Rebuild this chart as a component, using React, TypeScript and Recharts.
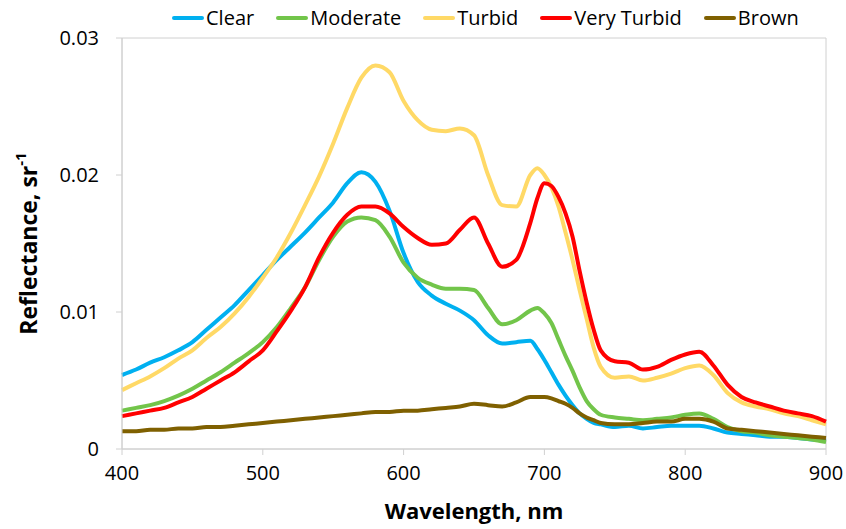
import React from "react";
import { Legend, Line, LineChart, ReferenceArea, XAxis, YAxis } from "recharts";

// wavelength samples (nm)
const wavelengths = [
  400, 410, 420, 430, 440, 450, 460, 470, 480, 490, 500, 510, 520, 530, 540, 550, 560, 570, 580, 590,
  600, 610, 620, 630, 640, 650, 660, 670, 680, 690, 695, 700, 705, 710, 715, 720, 725, 730, 735, 740,
  750, 760, 770, 780, 790, 800, 810, 820, 830, 840, 850, 860, 870, 880, 890, 900,
];

const clear = [
  0.0054, 0.0058, 0.0063, 0.0067, 0.0072, 0.0078, 0.0087, 0.0096, 0.0105, 0.0116, 0.0127, 0.0138, 0.0148, 0.0158, 0.0169, 0.018, 0.0194, 0.0202, 0.0195, 0.0174,
  0.0143, 0.0122, 0.0112, 0.0106, 0.0101, 0.0094, 0.0083, 0.0077, 0.0078, 0.0079, 0.0073, 0.0065, 0.0056, 0.0047, 0.0039, 0.0032, 0.0026, 0.0022, 0.0019, 0.0018,
  0.0016, 0.0017, 0.0015, 0.0016, 0.0017, 0.0017, 0.0017, 0.0015, 0.0012, 0.0011, 0.001, 0.0009, 0.0009, 0.0008, 0.0007, 0.0006,
];
const moderate = [
  0.0028, 0.003, 0.0032, 0.0035, 0.0039, 0.0044, 0.005, 0.0056, 0.0063, 0.007, 0.0078, 0.0089, 0.0103, 0.0118, 0.0138, 0.0155, 0.0166, 0.0169, 0.0167, 0.0155,
  0.0136, 0.0125, 0.012, 0.0117, 0.0117, 0.0116, 0.0103, 0.0091, 0.0094, 0.0101, 0.0103, 0.0099, 0.0092, 0.008, 0.0068, 0.0057, 0.0045, 0.0035, 0.0029, 0.0025,
  0.0023, 0.0022, 0.0021, 0.0022, 0.0023, 0.0025, 0.0026, 0.0022, 0.0016, 0.0013, 0.0012, 0.001, 0.0009, 0.0008, 0.0007, 0.0005,
];
const turbid = [
  0.0043, 0.0048, 0.0053, 0.0059, 0.0066, 0.0072, 0.0081, 0.0089, 0.0099, 0.0111, 0.0125, 0.014, 0.0158, 0.0178, 0.0199, 0.0223, 0.0249, 0.0271, 0.028, 0.0275,
  0.0254, 0.024, 0.0233, 0.0232, 0.0234, 0.0229, 0.02, 0.0178, 0.0177, 0.02, 0.0205, 0.02, 0.0191, 0.0177, 0.0158, 0.0138, 0.0116, 0.0095, 0.0074, 0.006,
  0.0052, 0.0053, 0.005, 0.0052, 0.0055, 0.0059, 0.0061, 0.0054, 0.0041, 0.0034, 0.0031, 0.0029, 0.0026, 0.0024, 0.0021, 0.0018,
];
const veryTurbid = [
  0.0024, 0.0026, 0.0028, 0.003, 0.0034, 0.0038, 0.0044, 0.005, 0.0056, 0.0064, 0.0072, 0.0086, 0.0101, 0.0118, 0.014, 0.0158, 0.0171, 0.0177, 0.0177, 0.0172,
  0.0162, 0.0154, 0.0149, 0.015, 0.016, 0.0169, 0.015, 0.0133, 0.0138, 0.0165, 0.0183, 0.0194, 0.0192, 0.0184, 0.0172, 0.0155, 0.013, 0.0107, 0.0087, 0.0072,
  0.0064, 0.0063, 0.0058, 0.006, 0.0065, 0.0069, 0.0071, 0.0061, 0.0047, 0.0038, 0.0034, 0.0031, 0.0028, 0.0026, 0.0024, 0.002,
];
const brown = [
  0.0013, 0.0013, 0.0014, 0.0014, 0.0015, 0.0015, 0.0016, 0.0016, 0.0017, 0.0018, 0.0019, 0.002, 0.0021, 0.0022, 0.0023, 0.0024, 0.0025, 0.0026, 0.0027, 0.0027,
  0.0028, 0.0028, 0.0029, 0.003, 0.0031, 0.0033, 0.0032, 0.0031, 0.0034, 0.0038, 0.0038, 0.0038, 0.0037, 0.0035, 0.0033, 0.003, 0.0026, 0.0023, 0.0021, 0.0019,
  0.0018, 0.0018, 0.0019, 0.002, 0.002, 0.0022, 0.0022, 0.002, 0.0015, 0.0014, 0.0013, 0.0012, 0.0011, 0.001, 0.0009, 0.0008,
];

const xTicks = [400, 500, 600, 700, 800, 900];
const yTicks = [0, 0.01, 0.02, 0.03];

const series = [
  { key: "clear", name: "Clear", color: "#00b0f0", values: clear },
  { key: "moderate", name: "Moderate", color: "#72c54a", values: moderate },
  { key: "turbid", name: "Turbid", color: "#ffd966", values: turbid },
  { key: "veryTurbid", name: "Very Turbid", color: "#ff0000", values: veryTurbid },
  { key: "brown", name: "Brown", color: "#7f6000", values: brown },
];

const data = wavelengths.map((wl, i) => {
  const row: Record<string, number> = { wl };
  series.forEach((s) => (row[s.key] = s.values[i]));
  return row;
});

const FONT = "'Open Sans', 'Noto Sans', sans-serif";
const AXIS = "#d0d0d0";

function TopLegend() {
  return (
    <div style={{ display: "flex", gap: 22, paddingLeft: 172, fontFamily: FONT, fontSize: 20, color: "#000", alignItems: "center" }}>
      {series.map((s) => (
        <div key={s.key} style={{ display: "flex", alignItems: "center" }}>
          <span style={{ display: "inline-block", width: 32, height: 4, borderRadius: 2, background: s.color, marginRight: 2 }} />
          <span>{s.name}</span>
        </div>
      ))}
    </div>
  );
}

export default function App() {
  return (
    <div style={{ position: "absolute", left: 0, top: 0, width: 846, height: 529, background: "#fff" }}>
      <LineChart width={846} height={529} data={data} margin={{ top: 38, right: 20, bottom: 0, left: 0 }}>
        <ReferenceArea x1={400} x2={900} y1={0} y2={0.03} fill="none" stroke={AXIS} strokeWidth={1} ifOverflow="visible" />
        <XAxis
          dataKey="wl"
          type="number"
          domain={[400, 900]}
          ticks={xTicks}
          height={80}
          stroke={AXIS}
          tickSize={6}
          tickMargin={11}
          tick={{ fill: "#000", fontSize: 20, fontFamily: FONT }}
          label={{ value: "Wavelength, nm", position: "insideBottom", offset: 10, fill: "#000", fontSize: 22, fontWeight: 700, fontFamily: FONT }}
        />
        <YAxis
          type="number"
          domain={[0, 0.03]}
          ticks={yTicks}
          width={122}
          stroke={AXIS}
          tickSize={6}
          tickMargin={17}
          tickFormatter={(v: number) => (v === 0 ? "0" : v.toFixed(2))}
          tick={{ fill: "#000", fontSize: 20, fontFamily: FONT }}
          label={({ viewBox }: any) => (
            <text
              x={28}
              y={viewBox.y + viewBox.height / 2}
              transform={`rotate(-90, 28, ${viewBox.y + viewBox.height / 2})`}
              textAnchor="middle"
              dominantBaseline="central"
              fontFamily={FONT}
              fontSize={23}
              fontWeight={700}
              fill="#000"
            >
              Reflectance, sr<tspan fontSize={15} dy={-8}>-1</tspan>
            </text>
          )}
        />
        <Legend layout="vertical" align="center" verticalAlign="middle" wrapperStyle={{ top: 4, left: 0, width: 846 }} content={() => <TopLegend />} />
        {series.map((s) => (
          <Line
            key={s.key}
            type="monotone"
            dataKey={s.key}
            name={s.name}
            stroke={s.color}
            strokeWidth={4}
            dot={false}
            activeDot={false}
            isAnimationActive={false}
          />
        ))}
      </LineChart>
    </div>
  );
}
